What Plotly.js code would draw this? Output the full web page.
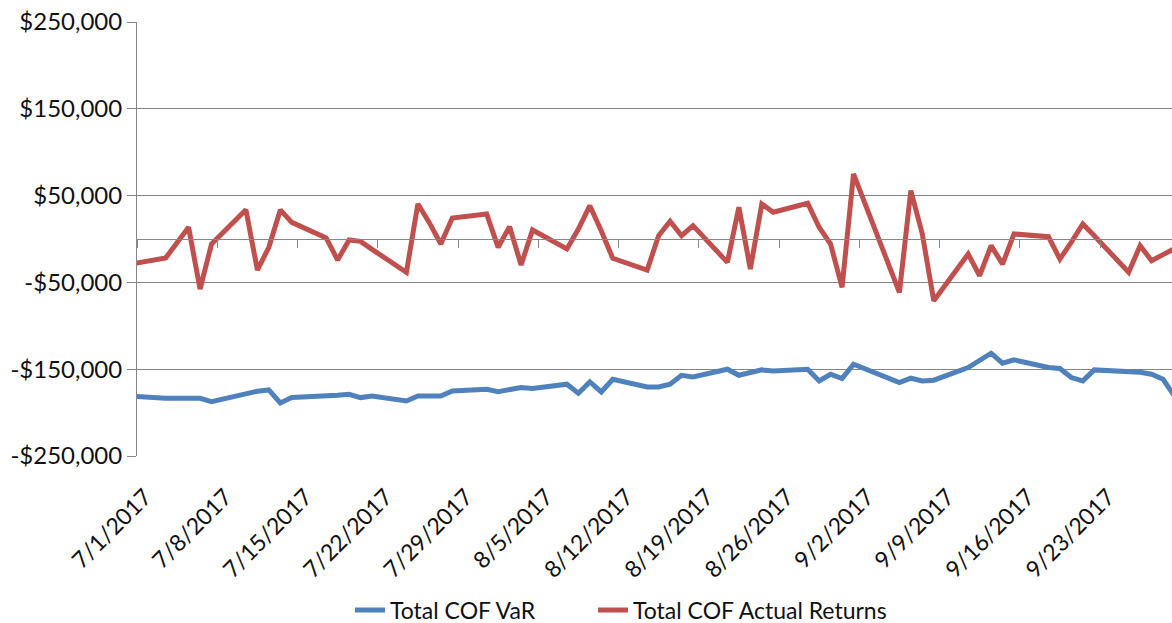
<!DOCTYPE html>
<html>
<head>
<meta charset="utf-8">
<script src="https://cdn.plot.ly/plotly-3.0.1.min.js"></script>
<style>
html,body{margin:0;padding:0;background:#fff;}
#chart{width:1172px;height:623px;}
</style>
</head>
<body>
<div id="chart"></div>
<script>
// Business days (data points)
const dates = ['2017-06-30','2017-07-03','2017-07-05','2017-07-06','2017-07-07','2017-07-10','2017-07-11','2017-07-12','2017-07-13','2017-07-14','2017-07-17','2017-07-18','2017-07-19','2017-07-20','2017-07-21','2017-07-24','2017-07-25','2017-07-26','2017-07-27','2017-07-28','2017-07-31','2017-08-01','2017-08-02','2017-08-03','2017-08-04','2017-08-07','2017-08-08','2017-08-09','2017-08-10','2017-08-11','2017-08-14','2017-08-15','2017-08-16','2017-08-17','2017-08-18','2017-08-21','2017-08-22','2017-08-23','2017-08-24','2017-08-25','2017-08-28','2017-08-29','2017-08-30','2017-08-31','2017-09-01','2017-09-05','2017-09-06','2017-09-07','2017-09-08','2017-09-11','2017-09-12','2017-09-13','2017-09-14','2017-09-15','2017-09-18','2017-09-19','2017-09-20','2017-09-21','2017-09-22','2017-09-25','2017-09-26','2017-09-27','2017-09-28','2017-09-29'];

const cofVaR = [-181000,-183500,-183500,-183500,-187300,-177700,-175400,-173900,-188900,-182700,-181500,-180000,-178900,-182700,-180800,-186600,-180800,-180800,-180800,-175000,-173100,-175800,-173000,-171200,-172300,-167300,-177700,-164700,-176200,-161600,-170400,-170400,-167300,-157000,-158900,-150000,-157000,-154600,-150800,-152000,-150000,-163500,-155800,-160800,-144300,-165400,-160400,-163500,-162700,-148100,-140000,-131600,-143100,-139300,-148100,-149200,-159600,-163500,-150800,-152700,-153500,-155800,-161600,-181000];

const cofReturns = [-28900,-21900,13500,-57700,-5800,33800,-35800,-9600,33500,19200,1200,-24200,-1200,-2700,-11900,-38400,40400,18800,-5800,24200,28900,-9600,14200,-30000,10400,-11500,11500,38400,9200,-22300,-35800,3800,20400,3800,15400,-26900,36600,-34600,40400,30800,41200,13500,-5800,-55700,75000,-61500,55800,5800,-71200,-17300,-42300,-7700,-28900,5800,2700,-23100,-3600,17300,3800,-38400,-7700,-25000,-18000,-11000];

const xTickVals = ['2017-07-01','2017-07-08','2017-07-15','2017-07-22','2017-07-29','2017-08-05','2017-08-12','2017-08-19','2017-08-26','2017-09-02','2017-09-09','2017-09-16','2017-09-23'];
const xTickText = ['7/1/2017','7/8/2017','7/15/2017','7/22/2017','7/29/2017','8/5/2017','8/12/2017','8/19/2017','8/26/2017','9/2/2017','9/9/2017','9/16/2017','9/23/2017'];

const yTickVals = [-250000,-150000,-50000,50000,150000,250000];
const yTickText = ['-$250,000','-$150,000','-$50,000','$50,000','$150,000','$250,000'];

const seriesNames = ['Total COF VaR','Total COF Actual Returns'];

const FONT = 'Lato, "Open Sans", sans-serif';
const GRID = '#868686';
const TXT = '#111';
const DAY = 86400000;
const XRANGE = ['2017-07-01', '2017-09-29 06:43'];

const traces = [
  {x: dates, y: cofVaR, name: seriesNames[0], type: 'scatter', mode: 'lines',
   xperiod: DAY, xperiodalignment: 'middle', legend: 'legend',
   line: {color: '#4F81BD', width: 5}},
  {x: dates, y: cofReturns, name: seriesNames[1], type: 'scatter', mode: 'lines',
   xperiod: DAY, xperiodalignment: 'middle', legend: 'legend2',
   line: {color: '#C0504D', width: 5}},
  // anchor trace so the horizontal axis crossing at zero (with its tick marks) is drawn
  {x: [xTickVals[0]], y: [0], xaxis: 'x2', yaxis: 'y', type: 'scatter', mode: 'lines',
   showlegend: false, hoverinfo: 'skip', line: {color: 'rgba(0,0,0,0)', width: 0}}
];

const legendBase = {orientation: 'h', xanchor: 'left', y: -0.355, yanchor: 'middle',
                    bgcolor: 'rgba(0,0,0,0)', font: {family: FONT, size: 23, color: TXT}};

const layout = {
  width: 1172, height: 623,
  margin: {l: 137, r: 0, t: 22, b: 167, autoexpand: false},
  paper_bgcolor: '#fff', plot_bgcolor: '#fff',
  font: {family: FONT, size: 23, color: TXT},
  showlegend: true,
  legend: Object.assign({}, legendBase, {x: (350 - 137) / 1035}),
  legend2: Object.assign({}, legendBase, {x: (593 - 137) / 1035}),
  xaxis: {
    type: 'date', range: XRANGE,
    tickvals: xTickVals, ticktext: xTickText, tickangle: -45,
    ticks: '', showgrid: false, zeroline: false, showline: false,
    ticklabelstandoff: 22, ticklabelshift: 8,
    tickfont: {family: FONT, size: 23, color: TXT}
  },
  xaxis2: {
    type: 'date', overlaying: 'x', anchor: 'free', position: 0.5, side: 'bottom',
    range: XRANGE,
    tickvals: xTickVals, showticklabels: false,
    ticks: 'outside', ticklen: 8, tickwidth: 1, tickcolor: GRID,
    showline: true, linecolor: GRID, linewidth: 1, showgrid: false, zeroline: false
  },
  yaxis: {
    range: [-250000, 250000], tickvals: yTickVals, ticktext: yTickText,
    showgrid: true, gridcolor: GRID, gridwidth: 1, zeroline: false,
    showline: true, linecolor: GRID, linewidth: 1,
    ticks: 'outside', ticklen: 9, tickcolor: GRID, tickwidth: 1,
    tickfont: {family: FONT, size: 24, color: TXT}
  }
};

Plotly.newPlot('chart', traces, layout, {staticPlot: true, displayModeBar: false});
</script>
</body>
</html>
